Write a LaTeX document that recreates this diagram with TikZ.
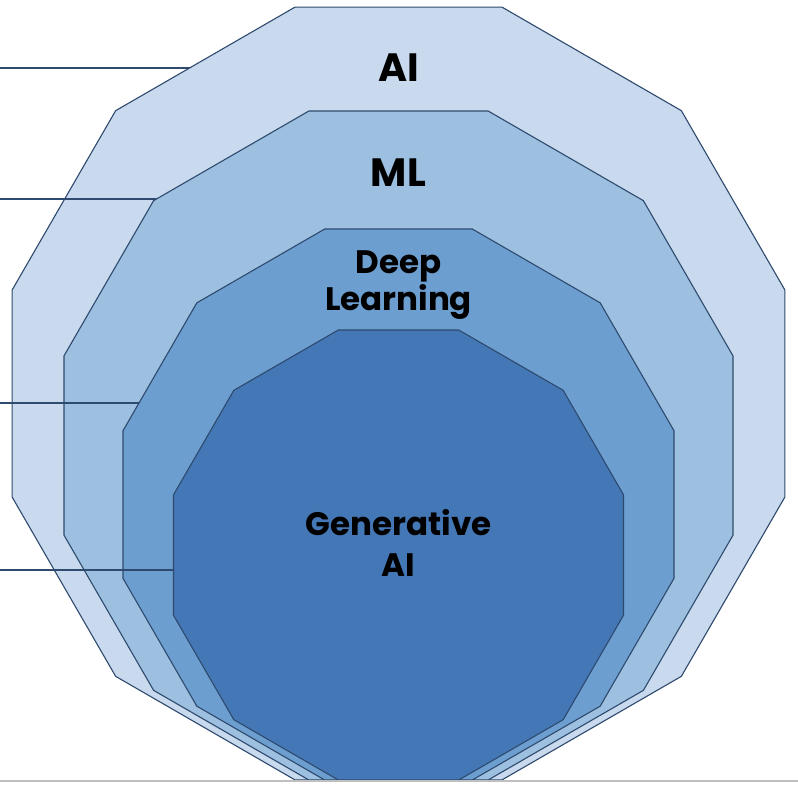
\documentclass[tikz,border=0pt]{standalone}
\usepackage{fontspec}
\setmainfont{Poppins}
\usetikzlibrary{shapes.geometric}
\definecolor{edge}{HTML}{2E4A6E}
\definecolor{aifill}{HTML}{C9DAEE}
\definecolor{mlfill}{HTML}{9DBFE0}
\definecolor{dlfill}{HTML}{6C9ECF}
\definecolor{genfill}{HTML}{4477B5}
\tikzset{
  layer/.style={regular polygon, regular polygon sides=12, draw=edge, line width=1.1pt,
    inner sep=0pt, outer sep=0pt, minimum size=#1},
  tag/.style={draw=edge, line width=1.2pt},
  bigtext/.style={font=\bfseries\fontsize{39.5}{39.5}\selectfont, anchor=base},
  smalltext/.style={font=\bfseries\fontsize{32.5}{32.5}\selectfont, anchor=base}
}
\begin{document}
\begin{tikzpicture}[x=1pt,y=-1pt]
\useasboundingbox (0,0) rectangle (798,785);
\coordinate (AIc) at (398.5,393.5);
\coordinate (MLc) at (398.5,445.5);
\coordinate (DLc) at (398.5,504.5);
\coordinate (GAc) at (398.5,555);
\coordinate (t1) at (0,68);
\coordinate (t2) at (0,199);
\coordinate (t3) at (0,403);
\coordinate (t4) at (0,570);

\begin{scope}
\clip (0,0) rectangle (798,780);
\draw[tag] (t1) -- (t1 -| AIc);
\node[layer=800pt, fill=aifill] (AI) at (AIc) {};
\draw[tag] (t2) -- (t2 -| MLc);
\node[layer=692.6pt, fill=mlfill] (ML) at (MLc) {};
\draw[tag] (t3) -- (t3 -| DLc);
\node[layer=570.4pt, fill=dlfill] (DL) at (DLc) {};
\draw[tag] (t4) -- (t4 -| GAc);
\node[layer=465.8pt, fill=genfill] (GA) at (GAc) {};
\end{scope}
\draw[black!25, line width=1.5pt] (0,781) -- (798,781);

\node[bigtext] (ailbl) at (398.5,81) {AI};
\node[bigtext] (mllbl) at (398.5,186) {ML};
\node[smalltext] (dllbl) at (398.5,273) {Deep};
\node[smalltext] (dllbl2) at (398.5,310) {Learning};
\node[smalltext] (galbl) at (398.5,535) {Generative};
\node[smalltext] (galbl2) at (398.5,576) {AI};
\end{tikzpicture}
\end{document}
